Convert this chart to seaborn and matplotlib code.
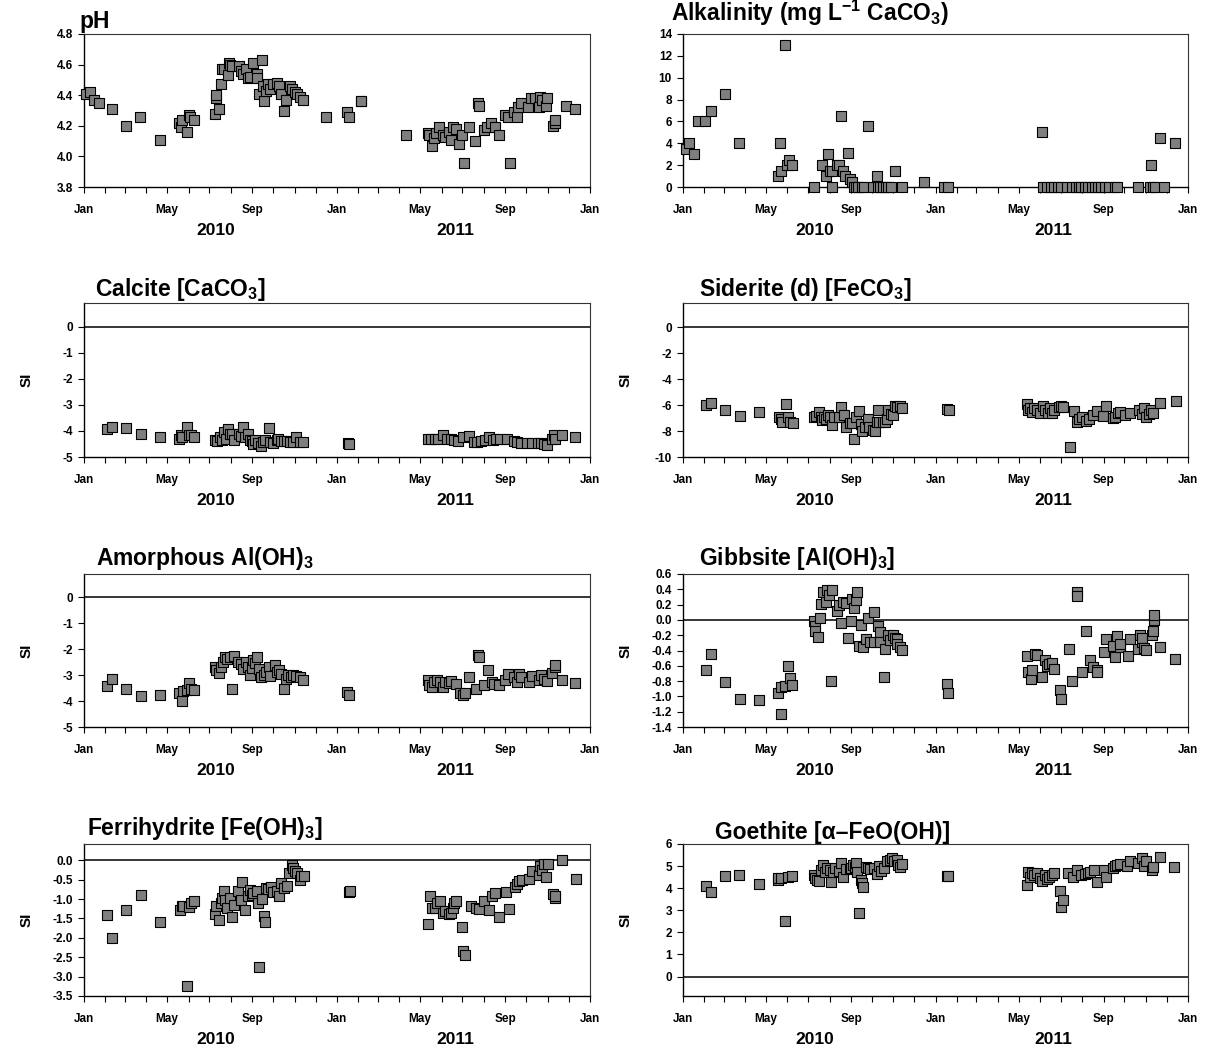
import datetime as dt

import matplotlib
matplotlib.use("Agg")
import matplotlib.pyplot as plt
import matplotlib.dates as mdates
from matplotlib.ticker import FixedLocator, FormatStrFormatter
import pandas as pd
import seaborn as sns

# ---------------------------------------------------------------------------
# Sampling days (days since 1 Jan 2010) and measured / computed values
# ---------------------------------------------------------------------------
ph_day = [3, 8, 15, 21, 40, 60, 81, 109, 137, 140,
          142, 148, 151, 153, 158, 189, 190, 191, 195, 197,
          199, 202, 208, 209, 210, 214, 224, 226, 229, 233,
          236, 240, 244, 249, 250, 253, 257, 258, 259, 263,
          265, 269, 272, 279, 281, 284, 288, 291, 297, 300,
          304, 308, 311, 316, 349, 380, 382, 399, 400, 465,
          496, 498, 502, 505, 508, 512, 518, 521, 526, 529,
          532, 536, 541, 545, 548, 556, 564, 568, 570, 577,
          581, 587, 593, 598, 608, 611, 615, 620, 624, 626,
          630, 641, 645, 650, 658, 657, 661, 667, 668, 676,
          679, 680, 695, 709]
ph_val = [4.41, 4.42, 4.37, 4.35, 4.31, 4.20, 4.26, 4.11, 4.22, 4.19,
          4.24, 4.16, 4.27, 4.26, 4.24, 4.28, 4.38, 4.40, 4.31, 4.47,
          4.57, 4.57, 4.53, 4.61, 4.60, 4.59, 4.59, 4.56, 4.54, 4.57,
          4.51, 4.52, 4.61, 4.54, 4.51, 4.41, 4.63, 4.46, 4.36, 4.43,
          4.47, 4.44, 4.47, 4.48, 4.46, 4.41, 4.30, 4.37, 4.46, 4.44,
          4.42, 4.41, 4.39, 4.37, 4.26, 4.29, 4.26, 4.36, 4.36, 4.14,
          4.15, 4.14, 4.07, 4.12, 4.15, 4.19, 4.14, 4.13, 4.16, 4.11,
          4.19, 4.18, 4.08, 4.14, 3.96, 4.19, 4.10, 4.35, 4.33, 4.17,
          4.19, 4.22, 4.19, 4.14, 4.27, 4.26, 3.96, 4.29, 4.26, 4.32,
          4.35, 4.32, 4.38, 4.38, 4.39, 4.32, 4.37, 4.33, 4.38, 4.20,
          4.22, 4.24, 4.33, 4.31]

alk_day = [4, 8, 16, 21, 32, 40, 60, 81, 138, 140,
           142, 148, 151, 153, 158, 190, 201, 207, 209, 213,
           215, 216, 222, 226, 229, 232, 234, 239, 241, 245,
           247, 250, 253, 259, 261, 267, 274, 281, 282, 285,
           289, 293, 296, 300, 306, 317, 349, 378, 383, 519,
           521, 526, 532, 537, 542, 546, 555, 562, 568, 573,
           576, 581, 586, 591, 596, 600, 604, 610, 616, 624,
           628, 657, 675, 680, 682, 696, 677, 689, 711]
alk_val = [3.5, 4.0, 3.0, 6.0, 6.0, 7.0, 8.5, 4.0, 1.0, 4.0,
           1.5, 13.0, 2.0, 2.5, 2.0, 0.0, 2.0, 1.0, 3.0, 1.5,
           1.5, 0.0, 2.0, 2.0, 6.5, 1.5, 1.0, 3.1, 0.7, 0.5,
           0.0, 0.0, 0.0, 0.0, 0.0, 5.6, 0.0, 1.0, 0.0, 0.0,
           0.0, 0.0, 0.0, 0.0, 1.45, 0.0, 0.5, 0.0, 0.0, 5.0,
           0.0, 0.0, 0.0, 0.0, 0.0, 0.0, 0.0, 0.0, 0.0, 0.0,
           0.0, 0.0, 0.0, 0.0, 0.0, 0.0, 0.0, 0.0, 0.0, 0.0,
           0.0, 0.0, 0.0, 0.0, 0.0, 0.0, 2.0, 4.5, 4.0]

cal_day = [33, 40, 60, 82, 110, 137, 140, 142, 148, 151,
           154, 159, 189, 192, 196, 199, 202, 205, 208, 210,
           214, 217, 224, 227, 229, 232, 236, 239, 242, 244,
           247, 251, 256, 258, 261, 267, 269, 273, 278, 280,
           284, 289, 293, 297, 302, 306, 311, 316, 381, 382,
           496, 501, 506, 510, 518, 523, 529, 534, 540, 547,
           556, 562, 567, 573, 578, 584, 590, 595, 600, 610,
           620, 625, 631, 639, 647, 655, 659, 664, 668, 675,
           678, 680, 689, 709]
cal_val = [-3.94, -3.84, -3.87, -4.10, -4.23, -4.30, -4.16, -4.23, -3.84, -4.16,
           -4.16, -4.23, -4.33, -4.38, -4.23, -4.36, -4.03, -4.29, -3.94, -4.10,
           -4.10, -4.36, -4.12, -4.19, -3.84, -4.23, -4.12, -4.33, -4.38, -4.51,
           -4.36, -4.46, -4.57, -4.42, -4.36, -3.87, -4.42, -4.48, -4.36, -4.29,
           -4.38, -4.38, -4.38, -4.42, -4.42, -4.23, -4.42, -4.42, -4.48, -4.51,
           -4.29, -4.29, -4.29, -4.29, -4.16, -4.29, -4.29, -4.36, -4.38, -4.23,
           -4.20, -4.42, -4.42, -4.38, -4.36, -4.23, -4.36, -4.29, -4.29, -4.29,
           -4.38, -4.42, -4.46, -4.48, -4.48, -4.48, -4.48, -4.51, -4.55, -4.29,
           -4.16, -4.29, -4.16, -4.23]

sid_day = [33, 41, 61, 82, 110, 139, 141, 143, 149, 152,
           155, 159, 190, 192, 196, 199, 201, 204, 207, 210,
           212, 215, 218, 225, 229, 233, 236, 241, 244, 247,
           250, 254, 257, 259, 263, 267, 269, 274, 278, 280,
           282, 284, 289, 292, 295, 297, 300, 303, 306, 309,
           314, 317, 382, 384, 497, 498, 501, 505, 508, 512,
           516, 520, 524, 527, 531, 533, 537, 543, 547, 549,
           559, 565, 569, 572, 577, 583, 587, 593, 599, 607,
           611, 621, 624, 629, 632, 639, 646, 659, 663, 666,
           669, 674, 677, 680, 689, 712]
sid_val = [-5.98, -5.85, -6.42, -6.81, -6.50, -6.94, -7.07, -7.33, -5.91, -6.94,
           -7.33, -7.41, -6.94, -6.81, -6.55, -6.94, -7.15, -6.89, -7.07, -6.74,
           -6.94, -7.51, -6.94, -6.89, -6.17, -6.74, -7.67, -7.41, -7.41, -8.58,
           -6.94, -6.48, -7.46, -8.03, -7.72, -7.07, -7.67, -7.93, -7.98, -7.33,
           -6.37, -7.33, -7.33, -7.33, -7.07, -6.37, -6.68, -6.74, -6.11, -6.17,
           -6.04, -6.22, -6.30, -6.42, -5.96, -6.42, -6.22, -6.55, -6.22, -6.37,
           -6.63, -6.04, -6.37, -6.63, -6.22, -6.63, -6.37, -6.17, -6.11, -6.17,
           -9.22, -6.48, -7.33, -7.07, -6.94, -7.20, -7.07, -6.74, -6.48, -6.81,
           -6.04, -7.00, -6.89, -6.63, -6.55, -6.74, -6.63, -6.37, -6.68, -6.22,
           -6.94, -6.68, -6.37, -6.63, -5.85, -5.72]

amo_day = [33, 40, 60, 82, 110, 137, 141, 143, 148, 152,
           155, 159, 189, 191, 195, 198, 200, 203, 207, 210,
           214, 216, 222, 226, 229, 233, 236, 239, 242, 244,
           247, 250, 253, 256, 259, 262, 267, 269, 275, 279,
           282, 284, 289, 291, 295, 299, 302, 306, 311, 316,
           380, 382, 496, 498, 502, 505, 509, 514, 518, 521,
           526, 530, 536, 542, 547, 549, 556, 565, 569, 570,
           577, 583, 588, 592, 598, 608, 611, 620, 624, 628,
           631, 642, 646, 657, 660, 663, 668, 675, 679, 680,
           689, 709]
amo_val = [-3.43, -3.14, -3.52, -3.80, -3.75, -3.69, -4.01, -3.62, -3.58, -3.32,
           -3.52, -3.58, -2.68, -2.81, -2.90, -2.68, -2.49, -2.29, -2.36, -2.29,
           -3.52, -2.27, -2.49, -2.58, -2.78, -2.49, -2.68, -3.00, -2.74, -2.40,
           -2.55, -2.29, -2.78, -3.07, -3.00, -2.87, -2.68, -3.04, -2.62, -2.87,
           -2.81, -2.94, -3.52, -3.13, -3.00, -3.07, -3.00, -3.04, -3.09, -3.20,
           -3.65, -3.78, -3.20, -3.39, -3.45, -3.26, -3.17, -3.26, -3.45, -3.26,
           -3.32, -3.23, -3.35, -3.69, -3.78, -3.69, -3.07, -3.52, -2.23, -2.29,
           -3.39, -2.81, -3.26, -3.35, -3.39, -3.17, -2.96, -3.07, -3.26, -2.96,
           -3.07, -3.26, -3.04, -3.20, -3.00, -3.13, -3.22, -2.91, -2.68, -2.62,
           -3.17, -3.30]

gib_day = [33, 40, 61, 82, 110, 138, 141, 142, 148, 152,
           154, 158, 190, 191, 191, 195, 198, 200, 203, 206,
           208, 211, 214, 216, 223, 225, 229, 231, 235, 239,
           243, 244, 247, 250, 251, 254, 257, 260, 264, 267,
           270, 276, 276, 282, 285, 285, 290, 292, 296, 299,
           303, 306, 309, 310, 313, 317, 381, 383, 497, 498,
           503, 505, 509, 512, 519, 523, 526, 529, 533, 537,
           545, 547, 558, 562, 569, 570, 577, 583, 588, 592,
           598, 599, 608, 612, 621, 624, 628, 631, 632, 643,
           646, 657, 661, 663, 664, 667, 670, 678, 679, 681,
           681, 689, 711]
gib_val = [-0.66, -0.44, -0.81, -1.03, -1.05, -0.95, -1.23, -0.88, -0.87, -0.60,
           -0.76, -0.85, -0.01, -0.08, -0.14, -0.22, 0.02, 0.21, 0.37, 0.24,
           0.39, 0.33, -0.80, 0.39, 0.12, 0.20, -0.04, 0.24, 0.22, -0.24,
           -0.02, 0.27, 0.15, 0.26, 0.37, -0.34, -0.07, -0.36, -0.25, 0.02,
           -0.29, 0.10, -0.29, -0.08, -0.16, -0.29, -0.75, -0.38, -0.20, -0.26,
           -0.20, -0.24, -0.25, -0.31, -0.36, -0.39, -0.84, -0.95, -0.47, -0.68,
           -0.77, -0.65, -0.45, -0.46, -0.74, -0.52, -0.60, -0.57, -0.56, -0.64,
           -0.91, -1.03, -0.38, -0.80, 0.37, 0.31, -0.68, -0.15, -0.52, -0.61,
           -0.65, -0.68, -0.42, -0.25, -0.34, -0.48, -0.21, -0.35, -0.31, -0.47,
           -0.25, -0.38, -0.20, -0.29, -0.24, -0.37, -0.39, -0.20, -0.15, 0.00,
           0.06, -0.35, -0.51]

fer_day = [33, 40, 60, 82, 110, 139, 141, 143, 148, 152,
           154, 159, 189, 191, 195, 197, 199, 202, 204, 207,
           210, 214, 217, 222, 226, 228, 232, 236, 239, 242,
           244, 249, 251, 253, 257, 260, 261, 263, 265, 270,
           273, 278, 282, 284, 289, 293, 296, 300, 302, 305,
           308, 311, 313, 317, 382, 384, 497, 499, 502, 507,
           509, 513, 518, 521, 526, 530, 532, 534, 537, 545,
           547, 549, 558, 565, 570, 577, 584, 588, 593, 599,
           609, 613, 622, 625, 628, 632, 642, 646, 656, 658,
           661, 664, 667, 669, 677, 679, 680, 689, 710]
fer_val = [-1.41, -2.01, -1.28, -0.89, -1.59, -1.28, -1.17, -1.19, -3.24, -1.21,
           -1.10, -1.06, -1.38, -1.19, -1.53, -1.10, -0.97, -0.78, -1.03, -1.23,
           -0.97, -1.45, -1.15, -0.80, -1.03, -0.57, -1.29, -0.93, -0.76, -0.89,
           -0.84, -0.78, -1.10, -2.76, -1.00, -1.43, -1.60, -0.72, -0.74, -0.69,
           -0.83, -0.78, -0.93, -0.59, -0.72, -0.66, -0.34, -0.11, -0.20, -0.28,
           -0.34, -0.52, -0.40, -0.40, -0.83, -0.80, -1.64, -0.93, -1.23, -1.23,
           -1.10, -1.06, -1.36, -1.32, -1.38, -1.36, -1.23, -1.09, -1.06, -1.72,
           -2.33, -2.44, -1.17, -1.23, -1.26, -1.06, -1.29, -0.93, -0.84, -1.45,
           -0.83, -1.26, -0.69, -0.60, -0.54, -0.50, -0.47, -0.28, -0.37, -0.14,
           -0.24, -0.09, -0.43, -0.09, -0.86, -0.97, -0.93, 0.00, -0.48]

goe_day = [33, 40, 60, 81, 110, 137, 138, 142, 148, 152,
           158, 190, 191, 194, 197, 200, 203, 205, 208, 212,
           214, 217, 220, 225, 229, 232, 236, 241, 243, 246,
           248, 250, 252, 254, 257, 259, 260, 264, 268, 271,
           276, 281, 284, 286, 290, 295, 299, 302, 305, 309,
           311, 314, 317, 381, 383, 497, 499, 502, 505, 508,
           512, 516, 519, 523, 526, 529, 533, 536, 545, 547,
           549, 557, 564, 570, 576, 581, 585, 588, 594, 599,
           609, 612, 621, 624, 628, 632, 642, 646, 657, 663,
           666, 670, 678, 680, 689, 710]
goe_val = [4.10, 3.81, 4.53, 4.60, 4.18, 4.36, 4.45, 4.45, 2.52, 4.50,
           4.57, 4.60, 4.48, 4.37, 4.34, 4.83, 5.06, 4.75, 4.91, 4.83,
           4.30, 4.75, 4.91, 4.78, 5.13, 4.50, 4.86, 4.86, 4.91, 5.06,
           4.98, 5.13, 4.75, 2.89, 4.37, 4.22, 4.07, 4.98, 4.91, 4.86,
           4.91, 4.65, 5.01, 4.78, 4.91, 5.21, 5.29, 5.36, 5.21, 5.29,
           5.06, 4.98, 5.10, 4.53, 4.53, 4.15, 4.75, 4.50, 4.71, 4.60,
           4.71, 4.45, 4.34, 4.60, 4.41, 4.50, 4.60, 4.68, 3.89, 3.16,
           3.46, 4.71, 4.50, 4.83, 4.60, 4.65, 4.71, 4.75, 4.83, 4.27,
           4.83, 4.50, 4.91, 5.01, 5.06, 5.10, 5.01, 5.21, 5.16, 5.36,
           5.01, 5.24, 4.83, 4.94, 5.39, 4.98]

# Axis tick values
ph_ticks = [3.8, 4.0, 4.2, 4.4, 4.6, 4.8]
alk_ticks = [0, 2, 4, 6, 8, 10, 12, 14]
cal_ticks = [-5, -4, -3, -2, -1, 0]
sid_ticks = [-10, -8, -6, -4, -2, 0]
amo_ticks = [-5, -4, -3, -2, -1, 0]
gib_ticks = [-1.4, -1.2, -1.0, -0.8, -0.6, -0.4, -0.2, 0.0, 0.2, 0.4, 0.6]
fer_ticks = [-3.5, -3.0, -2.5, -2.0, -1.5, -1.0, -0.5, 0.0]
goe_ticks = [0, 1, 2, 3, 4, 5, 6]

year_labels = ["2010", "2011"]

# ---------------------------------------------------------------------------
# Style
# ---------------------------------------------------------------------------
sns.set_style("ticks")
plt.rcParams["font.family"] = ["Liberation Sans", "DejaVu Sans"]
plt.rcParams["font.weight"] = "bold"
plt.rcParams["text.color"] = "black"
plt.rcParams["axes.labelcolor"] = "black"
plt.rcParams["xtick.color"] = "black"
plt.rcParams["ytick.color"] = "black"
plt.rcParams["xtick.labelcolor"] = "black"
plt.rcParams["ytick.labelcolor"] = "black"
plt.rcParams["axes.unicode_minus"] = False
plt.rcParams["mathtext.fontset"] = "custom"
plt.rcParams["mathtext.rm"] = "Liberation Sans:bold"
plt.rcParams["mathtext.bf"] = "Liberation Sans:bold"
plt.rcParams["mathtext.it"] = "Liberation Sans:bold"
plt.rcParams["mathtext.default"] = "rm"

W, H = 1206, 1053
fig = plt.figure(figsize=(W / 100, H / 100), dpi=100)
fig.patch.set_facecolor("white")

START = pd.Timestamp("2010-01-01")
END = pd.Timestamp("2012-01-01")


def box(left, top, right, bottom):
    """Pixel box -> figure fraction rectangle."""
    return [left / W, 1 - bottom / H, (right - left) / W, (bottom - top) / H]


LEFT_COL = (84, 590)
RIGHT_COL = (683, 1188)
ROWS = [(34, 187), (303, 457), (574, 727), (844, 996)]

panels = [
    dict(col=LEFT_COL, row=ROWS[0], title="pH", tpos=(79, 28),
         days=ph_day, vals=ph_val, ylim=(3.8, 4.8), ticks=ph_ticks,
         fmt="%.1f", zero=False, si=False),
    dict(col=RIGHT_COL, row=ROWS[0],
         title=r"Alkalinity (mg L$^{-1}$ CaCO$_3$)", tpos=(671, 21),
         days=alk_day, vals=alk_val, ylim=(0, 14), ticks=alk_ticks,
         fmt="%d", zero=False, si=False),
    dict(col=LEFT_COL, row=ROWS[1], title=r"Calcite [CaCO$_3$]", tpos=(95, 296),
         days=cal_day, vals=cal_val, ylim=(-5, 0.92), ticks=cal_ticks,
         fmt="%d", zero=True, si=True),
    dict(col=RIGHT_COL, row=ROWS[1], title=r"Siderite (d) [FeCO$_3$]", tpos=(699, 296),
         days=sid_day, vals=sid_val, ylim=(-10, 1.85), ticks=sid_ticks,
         fmt="%d", zero=True, si=True),
    dict(col=LEFT_COL, row=ROWS[2], title=r"Amorphous Al(OH)$_3$", tpos=(96, 565),
         days=amo_day, vals=amo_val, ylim=(-5, 0.9), ticks=amo_ticks,
         fmt="%d", zero=True, si=True),
    dict(col=RIGHT_COL, row=ROWS[2], title=r"Gibbsite [Al(OH)$_3$]", tpos=(699, 565),
         days=gib_day, vals=gib_val, ylim=(-1.4, 0.6), ticks=gib_ticks,
         fmt="%.1f", zero=True, si=True),
    dict(col=LEFT_COL, row=ROWS[3], title=r"Ferrihydrite [Fe(OH)$_3$]", tpos=(87, 835),
         days=fer_day, vals=fer_val, ylim=(-3.5, 0.42), ticks=fer_ticks,
         fmt="%.1f", zero=True, si=True),
    dict(col=RIGHT_COL, row=ROWS[3], title="Goethite [\u03b1\u2013FeO(OH)]", tpos=(715, 839),
         days=goe_day, vals=goe_val, ylim=(-0.88, 6), ticks=goe_ticks,
         fmt="%d", zero=True, si=True),
]

year_pos = [pd.Timestamp("2010-07-10"), pd.Timestamp("2011-06-21")]

for p in panels:
    left, right = p["col"]
    top, bottom = p["row"]
    ax = fig.add_axes(box(left, top, right, bottom))
    ax.set_facecolor("white")

    df = pd.DataFrame({
        "date": START + pd.to_timedelta(p["days"], unit="D"),
        "value": p["vals"],
    })

    if p["zero"]:
        ax.axhline(0, color="black", lw=1.1, zorder=2)

    sns.scatterplot(data=df, x="date", y="value", ax=ax, marker="s", s=48,
                    color="#7f7f7f", edgecolor="black", linewidth=0.8,
                    zorder=3, clip_on=False, legend=False)

    ax.set_xlim(START, END)
    ax.set_ylim(*p["ylim"])
    ax.yaxis.set_major_locator(FixedLocator(p["ticks"]))
    ax.yaxis.set_major_formatter(FormatStrFormatter(p["fmt"]))

    ax.xaxis.set_major_locator(mdates.MonthLocator(bymonth=[1, 5, 9]))
    ax.xaxis.set_major_formatter(mdates.DateFormatter("%b"))
    ax.xaxis.set_minor_locator(mdates.MonthLocator())

    ax.tick_params(axis="x", which="both", direction="out", length=4,
                   width=0.8, color="black", labelcolor="black", pad=8,
                   labelsize=8.5)
    ax.tick_params(axis="y", which="major", direction="out", length=4,
                   width=0.8, color="black", labelcolor="black", pad=4,
                   labelsize=8.5)
    for lab in ax.get_xticklabels() + ax.get_yticklabels():
        lab.set_fontweight("bold")

    for side in ("left", "bottom"):
        ax.spines[side].set_color("black")
        ax.spines[side].set_linewidth(1.0)
    for side in ("top", "right"):
        ax.spines[side].set_color("#333333")
        ax.spines[side].set_linewidth(0.8)
        ax.spines[side].set_visible(True)

    ax.set_xlabel("")
    if p["si"]:
        ax.set_ylabel("SI", fontsize=11, fontweight="bold", color="black")
        ax.yaxis.set_label_coords(-50 / (right - left), 0.5)
    else:
        ax.set_ylabel("")

    for label, pos in zip(year_labels, year_pos):
        ax.annotate(label, xy=(mdates.date2num(pos), 0),
                    xycoords=("data", "axes fraction"),
                    xytext=(0, -31), textcoords="offset points",
                    ha="center", va="center", fontsize=12.5,
                    fontweight="bold", color="black", annotation_clip=False)

    tx, ty = p["tpos"]
    fig.text(tx / W, 1 - ty / H, p["title"], fontsize=16.5, color="black",
             fontweight="bold", ha="left", va="baseline")

fig.savefig("out.png", dpi=100, facecolor="white")
